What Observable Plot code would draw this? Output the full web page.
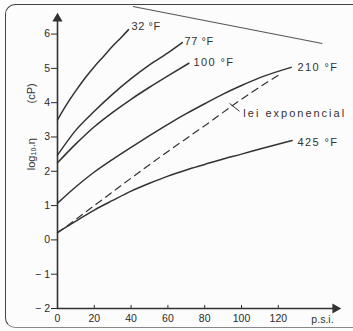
<!DOCTYPE html>
<html>
<head>
<meta charset="utf-8">
<script src="https://cdn.jsdelivr.net/npm/d3@7"></script>
<script src="https://cdn.jsdelivr.net/npm/@observablehq/plot@0.6"></script>
<style>
  html, body { margin: 0; padding: 0; background: #fcfcfc; overflow: hidden; }
  #wrap { position: relative; width: 353px; height: 331px; }
  #wrap svg { position: absolute; left: 0; top: 0; overflow: visible; }
  #frame { position: absolute; left: 5px; top: 4px; width: 420px; height: 322px;
    border-left: 1.5px solid #444; border-top: 1.5px solid #444; border-bottom: 1px solid #888;
    border-radius: 10px; pointer-events: none; }
  #edge { position: absolute; left: 133px; top: 6px; width: 193px; height: 0;
    border-top: 1px solid #555; transform-origin: 0 0; transform: rotate(11.08deg); }
</style>
</head>
<body>
<div id="wrap"><div id="frame"></div><div id="edge"></div></div>
<script>
// Data: pressure in p.s.i. vs log10 viscosity (cP)
const psi32  = [0, 5, 10, 15, 20, 25, 30, 35, 38.6];
const log32  = [3.5, 3.95, 4.35, 4.72, 5.05, 5.35, 5.65, 5.92, 6.13];
const psi77  = [0, 10, 20, 30, 40, 50, 60, 67.8];
const log77  = [2.47, 3.2, 3.75, 4.25, 4.7, 5.1, 5.45, 5.75];
const psi100 = [0, 10, 20, 30, 40, 50, 60, 71.4];
const log100 = [2.25, 2.8, 3.3, 3.72, 4.1, 4.45, 4.78, 5.15];
const psi210 = [0, 10, 20, 30, 40, 50, 60, 70, 80, 90, 100, 110, 127];
const log210 = [1.07, 1.55, 1.98, 2.35, 2.7, 3.04, 3.37, 3.68, 3.97, 4.25, 4.5, 4.73, 5.03];
const psi425 = [0, 10, 20, 30, 40, 50, 60, 70, 80, 90, 100, 110, 127.5];
const log425 = [0.22, 0.55, 0.87, 1.15, 1.42, 1.65, 1.86, 2.04, 2.2, 2.36, 2.5, 2.65, 2.9];
const psiExp = [0, 20, 40, 60, 80, 100, 122];
const logExp = [0.2, 1.0, 1.8, 2.58, 3.33, 4.1, 4.87];

const xTicks = [0, 20, 40, 60, 80, 100, 120];
const yTicks = [-2, -1, 0, 1, 2, 3, 4, 5, 6];

const labelText = ["32 °F", "77 °F", "100 °F", "210 °F", "425 °F", "lei exponencial"];
const labelX    = [40.2, 69, 73.9, 130.4, 130.4, 101];
const labelY    = [6.22, 5.78, 5.17, 5.03, 2.85, 3.69];
const labelGap  = [0.6, 0.6, 1.4, 1.4, 1.4, 2];

const xLabel = "p.s.i.";
const yLabelParts = ["log₁₀.η", "(cP)"];
const yLabelY = [2.5, 4.27];

const solid = [
  [psi32, log32], [psi77, log77], [psi100, log100], [psi210, log210], [psi425, log425]
].flatMap(([xs, ys], k) => xs.map((x, i) => ({x, y: ys[i], s: labelText[k]})));
const dashed = psiExp.map((x, i) => ({x, y: logExp[i]}));
const labels = labelText.map((t, i) => ({t, x: labelX[i], y: labelY[i], g: labelGap[i]}));
const yParts = yLabelParts.map((t, i) => ({t, y: yLabelY[i]}));

const ink = "#333";
const font = "'Liberation Sans', Arial, sans-serif";

const chart = Plot.plot({
  width: 353,
  height: 331,
  marginLeft: 57,
  marginRight: 13,
  marginTop: 13,
  marginBottom: 23,
  style: {background: "transparent", fontFamily: font, color: ink, overflow: "visible"},
  x: {domain: [0, 153.8]},
  y: {domain: [-2, 6.6]},
  marks: [
    Plot.axisX(xTicks, {tickSize: 0, tickPadding: 6, fontSize: 10.5, label: null, color: "#2a2a2a"}),
    Plot.axisY(yTicks, {tickSize: 6, tickPadding: 1.5, fontSize: 10.5, label: null, color: "#2a2a2a",
      tickFormat: d => d < 0 ? "− " + Math.abs(d) : String(d)}),
    Plot.ruleX(xTicks, {y1: -2, y2: -1.91, stroke: ink, strokeWidth: 1}),
    Plot.ruleX([0], {y1: -2, y2: 6.45, stroke: ink, strokeWidth: 1.6}),
    Plot.ruleY([-2], {x1: 0, x2: 151, stroke: ink, strokeWidth: 1.6}),
    Plot.dot([0], {x: 0, y: 6.45, symbol: "triangle", r: 3.8, fill: ink, stroke: null}),
    Plot.dot([0], {x: 151, y: -2, symbol: "triangle", r: 3.8, fill: ink, stroke: null, rotate: 90}),
    Plot.line(solid, {x: "x", y: "y", z: "s", curve: "monotone-x", stroke: ink, strokeWidth: 1.5}),
    Plot.line(dashed, {x: "x", y: "y", curve: "monotone-x", stroke: ink, strokeWidth: 1.2, strokeDasharray: "7,5"}),
    Plot.link([0], {x1: 93.5, y1: 3.98, x2: 98.9, y2: 3.75, stroke: ink, strokeWidth: 1}),
    Plot.text(labels, {x: "x", y: "y", text: "t", textAnchor: "start", fontSize: 11, fill: ink}),
    Plot.text([xLabel], {x: 144, y: -2, text: d => d, dy: 11, fontSize: 10.5, fill: ink}),
    Plot.text(yParts, {x: -14.1, y: "y", text: "t", rotate: -90, fontSize: 11, fill: ink})
  ]
});
// letter spacing of the annotation labels
chart.querySelectorAll("text").forEach(el => {
  const i = labelText.indexOf(el.textContent);
  if (i >= 0) el.style.letterSpacing = labelGap[i] + "px";
});
document.getElementById("wrap").prepend(chart);
</script>
</body>
</html>
